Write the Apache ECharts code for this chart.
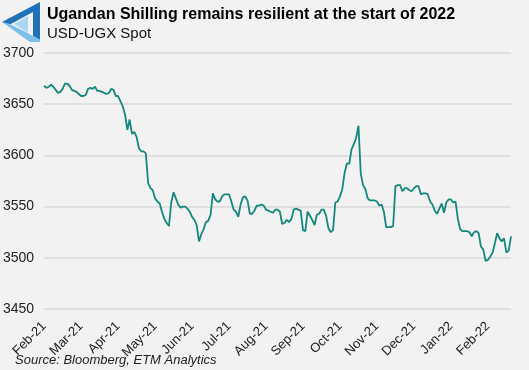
<!DOCTYPE html>
<html>
<head>
<meta charset="utf-8">
<style>
html,body{margin:0;padding:0;background:#f2f2f2;}
#chart{width:529px;height:370px;}
</style>
<script src="https://cdn.jsdelivr.net/npm/echarts@6/dist/echarts.min.js"></script>
</head>
<body>
<div id="chart"></div>
<script>
var titleText = 'Ugandan Shilling remains resilient at the start of 2022';
var subtitleText = 'USD-UGX Spot';
var sourceText = 'Source: Bloomberg, ETM Analytics';
var monthLabels = ['Feb-21','Mar-21','Apr-21','May-21','Jun-21','Jul-21','Aug-21','Sep-21','Oct-21','Nov-21','Dec-21','Jan-22','Feb-22'];
var yTicks = [3450, 3500, 3550, 3600, 3650, 3700];
var usdUgx = [
3668,3666,3667,3669,3667,3664,3661,3662,3665,3670,
3670,3668,3664,3663,3662,3660,3658,3658,3659,3665,
3666,3665,3667,3663,3663,3662,3661,3660,3661,3665,
3664,3658,3658,3653,3648,3640,3625,3635,3621,3623,
3618,3607,3604,3604,3602,3573,3568,3566,3558,3555,
3553,3545,3538,3534,3531,3554,3564,3558,3552,3549,
3550,3550,3548,3545,3540,3537,3532,3516,3523,3528,
3535,3536,3542,3563,3557,3555,3555,3560,3562,3562,
3562,3555,3547,3545,3540,3552,3559,3560,3556,3543,
3543,3546,3551,3551,3552,3551,3547,3546,3545,3544,
3547,3547,3545,3533,3534,3537,3535,3538,3547,3548,
3547,3546,3527,3526,3545,3541,3537,3532,3542,3543,
3547,3547,3541,3529,3525,3527,3554,3555,3560,3567,
3583,3592,3592,3606,3611,3617,3629,3582,3571,3567,
3558,3556,3556,3556,3555,3551,3552,3545,3530,3530,
3530,3531,3570,3571,3571,3565,3568,3568,3566,3565,
3568,3570,3570,3562,3563,3563,3562,3555,3552,3546,
3543,3548,3553,3544,3554,3557,3557,3554,3555,3538,
3528,3526,3526,3526,3525,3521,3525,3526,3524,3511,
3508,3497,3498,3501,3505,3514,3524,3519,3516,3519,
3505,3507,3521
];
var pointsPerMonth = 16;
var categories = usdUgx.map(function(v, i){ return i; });

var chart = echarts.init(document.getElementById('chart'), null, {renderer:'canvas'});
var font = 'Liberation Sans';
chart.setOption({
  backgroundColor: '#f2f2f2',
  animation: false,
  title: {
    text: titleText,
    subtext: subtitleText,
    left: 42, top: 2,
    itemGap: 3,
    textStyle: {fontFamily: font, fontSize: 16, fontWeight: 'bold', color: '#000'},
    subtextStyle: {fontFamily: font, fontSize: 15, color: '#111'}
  },
  grid: {left: 44, right: 18, top: 53, bottom: 61, containLabel: false},
  xAxis: {
    type: 'category',
    data: categories,
    boundaryGap: false,
    axisLine: {show: false},
    axisTick: {show: false},
    axisLabel: {
      interval: pointsPerMonth - 1,
      rotate: 45,
      margin: 15,
      fontFamily: font, fontSize: 13, color: '#222',
      formatter: function(v, idx){ return monthLabels[Math.round(idx / pointsPerMonth)] || ''; }
    },
    splitLine: {show: false}
  },
  yAxis: {
    type: 'value',
    min: yTicks[0], max: yTicks[yTicks.length-1], interval: 50,
    axisLine: {show: false},
    axisTick: {show: false},
    axisLabel: {fontFamily: font, fontSize: 14, color: '#222', margin: 10,
      formatter: function(v){ return String(v); }},
    splitLine: {lineStyle: {color: '#d9d9d9', width: 1.5}}
  },
  series: [{
    type: 'line',
    data: usdUgx,
    showSymbol: false,
    lineStyle: {color: '#13897d', width: 1.8},
    itemStyle: {color: '#13897d'}
  }],
  graphic: [
    {type:'polygon', shape:{points:[[40,2],[2,22],[9,25],[33,12],[33,36],[40,40]]}, style:{fill:'#1f72b8'}},
    {type:'polygon', shape:{points:[[2,22],[30,42],[40,42],[40,40],[33,36],[10,24]]}, style:{fill:'#7cc0e8'}},
    {type:'polygon', shape:{points:[[14,24],[28,16],[28,33]]}, style:{fill:'#a9d6f0'}},
    {type:'text', left: 15, top: 354, style:{text: sourceText, font: 'italic 13px "Liberation Sans"', fill:'#222'}}
  ]
});
</script>
</body>
</html>
